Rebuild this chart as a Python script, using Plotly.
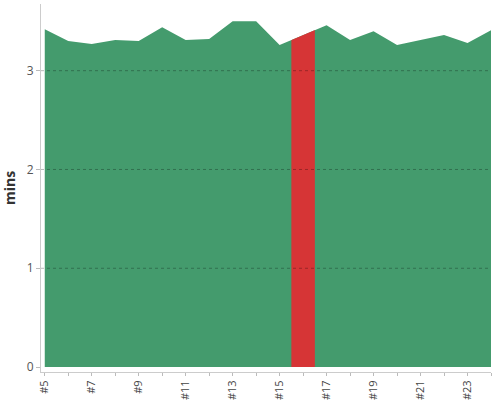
import plotly.graph_objects as go

# ---- data ----
labels = ["#5", "#6", "#7", "#8", "#9", "#10", "#11", "#12", "#13", "#14",
          "#15", "#16", "#17", "#18", "#19", "#20", "#21", "#22", "#23", "#24"]
minutes = [3.42, 3.30, 3.27, 3.31, 3.30, 3.44, 3.31, 3.32, 3.50, 3.50,
           3.26, 3.36, 3.46, 3.31, 3.40, 3.26, 3.31, 3.36, 3.28, 3.41]
highlight_label = "#16"
y_ticks = [0, 1, 2, 3]

positions = list(range(len(labels)))
hi = labels.index(highlight_label)

GREEN = "#449b6d"
RED = "#d63536"

x_lo = -0.16
x_hi = len(labels) - 1
span = x_hi - x_lo

fig = go.Figure()
fig.add_trace(go.Scatter(
    x=positions, y=minutes, mode="lines", fill="tozeroy",
    line=dict(width=0, color=GREEN), fillcolor=GREEN, hoverinfo="skip",
    showlegend=False))
# highlighted band: same series, clipped to [hi-0.5, hi+0.5] via its own x axis
fig.add_trace(go.Scatter(
    x=positions, y=minutes, mode="lines", fill="tozeroy",
    line=dict(width=0, color=RED), fillcolor=RED, hoverinfo="skip",
    xaxis="x2", yaxis="y", showlegend=False))

for v in y_ticks[1:]:
    fig.add_hline(y=v, line=dict(color="rgba(0,0,0,0.28)", width=1, dash="dot"),
                  layer="above")

tick_text = [lab if i % 2 == 0 else "" for i, lab in enumerate(labels)]

fig.update_layout(
    width=500, height=400,
    margin=dict(l=41, r=9, t=4, b=28, autoexpand=False),
    paper_bgcolor="white", plot_bgcolor="rgba(0,0,0,0)",
    font=dict(family="Open Sans", color="#555"),
    xaxis=dict(range=[x_lo, x_hi], domain=[0, 1], tickmode="array",
               tickvals=positions, ticktext=tick_text, tickangle=-90,
               ticks="outside", ticklen=3, tickcolor="#bbb",
               showline=True, linecolor="#ccc", linewidth=1,
               showgrid=False, zeroline=False,
               tickfont=dict(size=11, color="#444"), automargin=False),
    xaxis2=dict(range=[hi - 0.5, hi + 0.5],
                domain=[(hi - 0.5 - x_lo) / span, (hi + 0.5 - x_lo) / span],
                anchor="y", visible=False, showgrid=False, zeroline=False),
    yaxis=dict(range=[-0.05, 3.675], tickmode="array", tickvals=y_ticks,
               ticks="outside", ticklen=4, tickcolor="#bbb",
               showline=True, linecolor="#ccc", linewidth=1,
               showgrid=False, zeroline=False,
               tickfont=dict(size=12, color="#555"), automargin=False,
               title=dict(text="<b>mins</b>", standoff=8,
                          font=dict(size=14, color="#333"))),
)

fig.write_html("out.html", config={"displayModeBar": False},
               post_script="document.body.style.margin='0';"
                           "document.body.style.overflow='hidden';")
